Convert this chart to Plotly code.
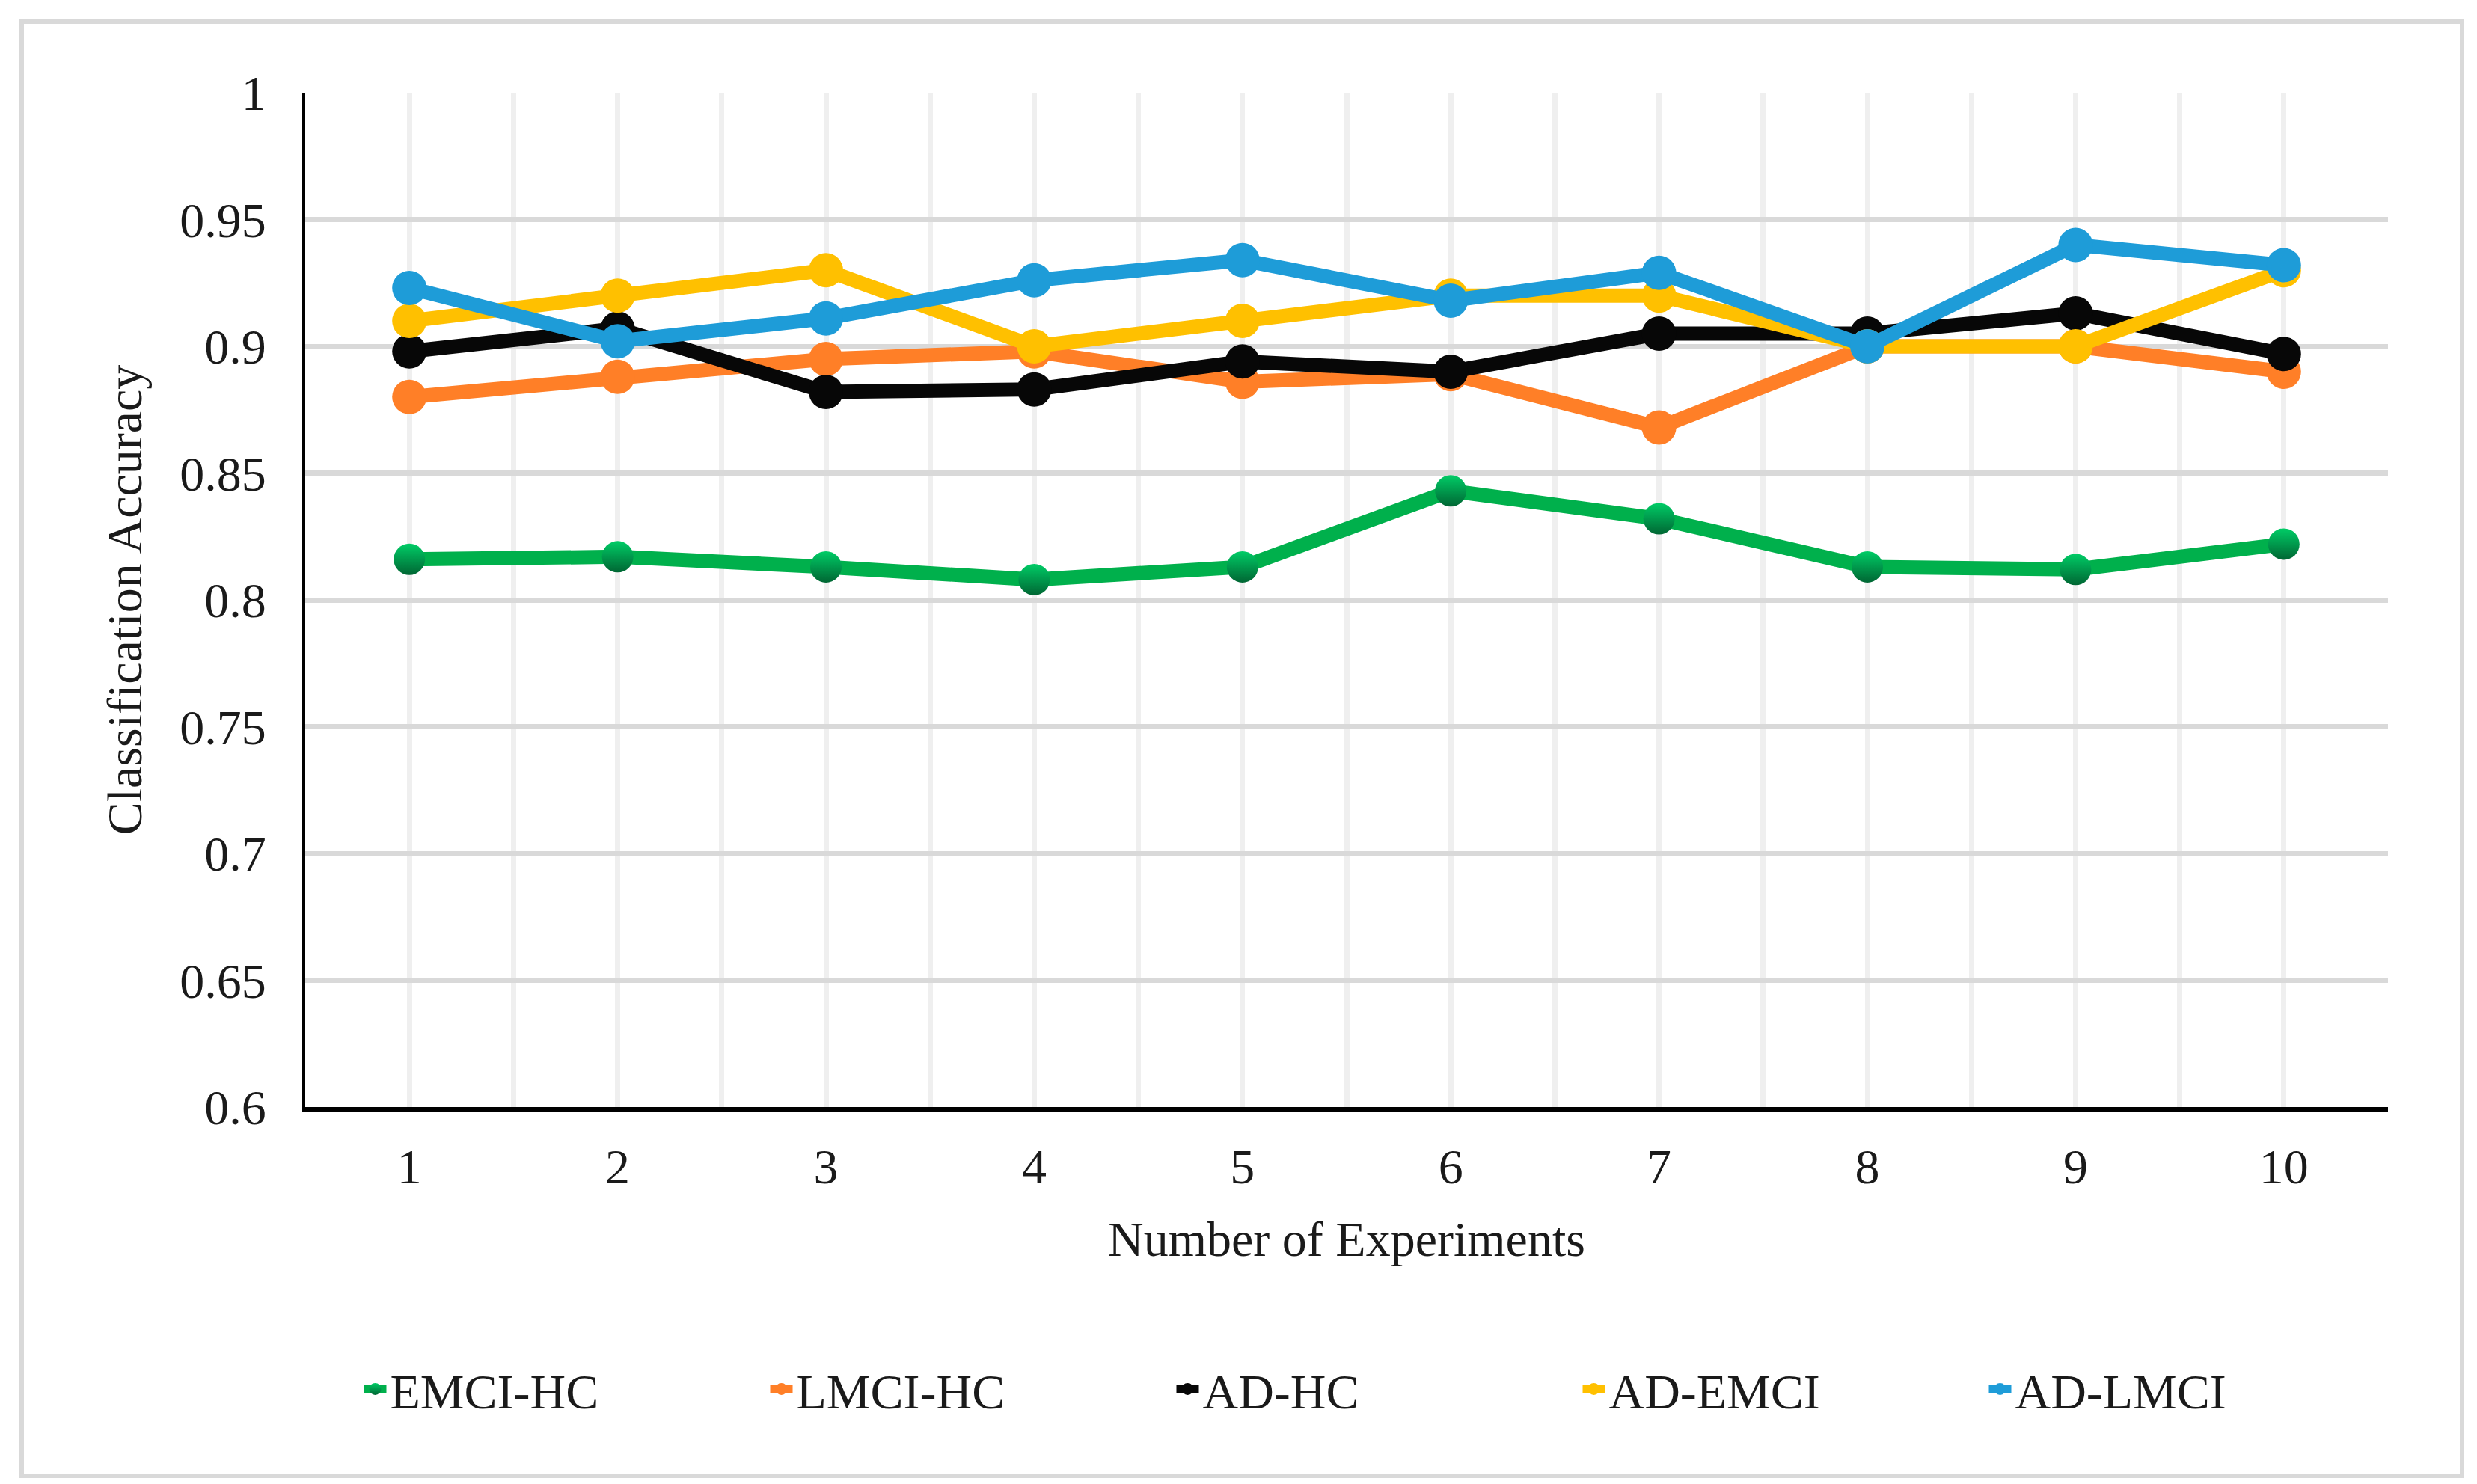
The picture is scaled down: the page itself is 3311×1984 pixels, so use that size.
import plotly.graph_objects as go

# ---- data ----
experiments = [1, 2, 3, 4, 5, 6, 7, 8, 9, 10]
x_tick_labels = ["1", "2", "3", "4", "5", "6", "7", "8", "9", "10"]
y_tick_values = [0.6, 0.65, 0.7, 0.75, 0.8, 0.85, 0.9, 0.95, 1.0]
y_tick_labels = ["0.6", "0.65", "0.7", "0.75", "0.8", "0.85", "0.9", "0.95", "1"]

emci_hc = [0.816, 0.817, 0.813, 0.808, 0.813, 0.843, 0.832, 0.813, 0.812, 0.822]
lmci_hc = [0.880, 0.888, 0.895, 0.898, 0.886, 0.889, 0.868, 0.900, 0.900, 0.890]
ad_hc = [0.898, 0.907, 0.882, 0.883, 0.894, 0.890, 0.905, 0.905, 0.913, 0.897]
ad_emci = [0.910, 0.920, 0.930, 0.900, 0.910, 0.920, 0.920, 0.900, 0.900, 0.930]
ad_lmci = [0.923, 0.902, 0.911, 0.926, 0.934, 0.918, 0.929, 0.900, 0.940, 0.932]

series_names = ["EMCI-HC", "LMCI-HC", "AD-HC", "AD-EMCI", "AD-LMCI"]
series_values = [emci_hc, lmci_hc, ad_hc, ad_emci, ad_lmci]
series_colors = ["#00B04C", "#FF7F27", "#070707", "#FFC000", "#1E9CD8"]

FONT = "Liberation Serif, Times New Roman, serif"
TEXT = "#1a1a1a"

W, H = 3311, 1984
L, R, T, B = 400, 127, 116, 512

fig = go.Figure()
for name, vals, col in zip(series_names, series_values, series_colors):
    marker = dict(size=46, color=col)
    if name == "EMCI-HC":
        marker = dict(size=42, color="#00CC66",
                      gradient=dict(type="vertical", color="#006633"))
    fig.add_trace(go.Scatter(
        x=experiments, y=vals, name=name, mode="lines+markers",
        line=dict(color=col, width=19),
        marker=marker,
    ))

pw, ph = W - L - R, H - T - B

fig.update_layout(
    width=W, height=H,
    margin=dict(l=L, r=R, t=T, b=B),
    paper_bgcolor="white", plot_bgcolor="white",
    font=dict(family=FONT, size=66, color=TEXT),
    showlegend=True,
    legend=dict(
        orientation="h", x=(1831 - L) / pw, xanchor="center",
        y=(H - B - 1849) / ph, yanchor="middle",
        font=dict(family=FONT, size=66, color=TEXT),
        entrywidth=498, entrywidthmode="pixels",
        itemwidth=30,
    ),
    xaxis=dict(
        range=[0.5, 10.5],
        tickmode="array", tickvals=experiments, ticktext=x_tick_labels,
        showgrid=True, gridcolor="#efefef", gridwidth=7,
        minor=dict(tickmode="linear", tick0=0.5, dtick=0.5, showgrid=True,
                   gridcolor="#efefef", gridwidth=7),
        showline=True, linecolor="black", linewidth=6,
        ticks="outside", ticklen=17, tickcolor="rgba(0,0,0,0)",
        zeroline=False,
        title=dict(text="Number of Experiments", standoff=40,
                   font=dict(family=FONT, size=66, color=TEXT)),
        tickfont=dict(family=FONT, size=66, color=TEXT),
    ),
    yaxis=dict(
        range=[0.6, 1.0],
        tickmode="array", tickvals=y_tick_values, ticktext=y_tick_labels,
        showgrid=True, gridcolor="#d9d9d9", gridwidth=7,
        showline=True, linecolor="black", linewidth=4,
        ticks="outside", ticklen=35, tickcolor="rgba(0,0,0,0)",
        zeroline=False,
        title=dict(text="Classification Accuracy", standoff=30,
                   font=dict(family=FONT, size=66, color=TEXT)),
        tickfont=dict(family=FONT, size=66, color=TEXT),
    ),
)

# outer light-gray frame around the whole chart
fig.add_shape(
    type="rect", xref="paper", yref="paper",
    x0=(21 - L) / pw, x1=(3283 - L) / pw,
    y0=(H - B - 1965) / ph, y1=(H - B - 21) / ph,
    line=dict(color="#d9d9d9", width=6), fillcolor="rgba(0,0,0,0)",
    layer="below",
)

fig.write_html("out.html")
